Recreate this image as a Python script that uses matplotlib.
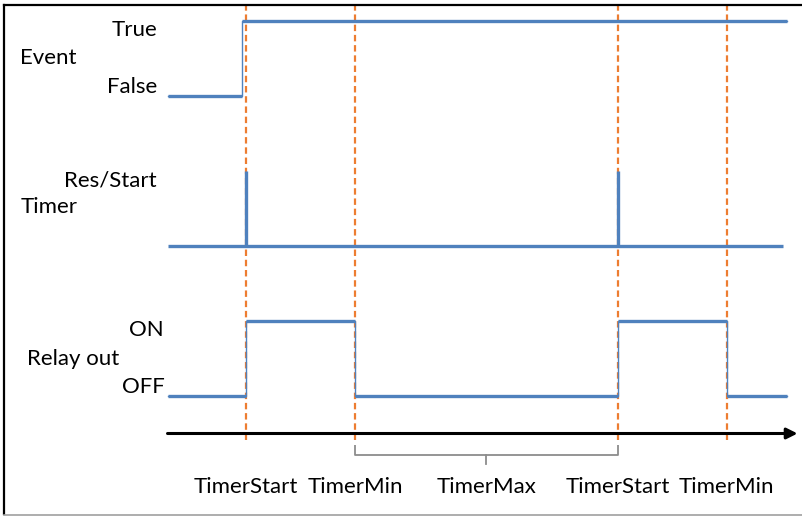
import matplotlib
matplotlib.use("Agg")
import matplotlib.pyplot as plt
from matplotlib.path import Path
from matplotlib.patches import PathPatch

plt.rcParams['font.family'] = ['Lato', 'DejaVu Sans']

# time axis: one unit = TimerMin duration, first TimerStart at t=0
marker_times = [0.0, 1.0, 3.41, 4.41]
marker_labels = ['TimerStart', 'TimerMin', 'TimerStart', 'TimerMin']
t_begin, t_end = -0.72, 4.96
arrow_end = 5.06

# signals (row offsets: event 4, timer 2, relay 0)
event_t = [t_begin, -0.04, -0.04, t_end]
event_v = [0, 0, 1, 1]
timer_pulses = [0.0, 3.41]
relay_t = [t_begin, 0.0, 0.0, 1.0, 1.0, 3.41, 3.41, 4.41, 4.41, t_end]
relay_v = [0, 0, 1, 1, 0, 0, 1, 1, 0, 0]

row_labels = ['Event', 'Timer', 'Relay out']
level_labels = [('True', 'False'), ('Res/Start', ''), ('ON', 'OFF')]
brace_label = 'TimerMax'

blue = '#4F81BD'
orange = '#ED7D31'

fig = plt.figure(figsize=(8.02, 5.16), dpi=100)
ax = fig.add_axes([0, 0, 1, 1])
ax.set_xlim(-2.257, 5.101)
ax.set_ylim(-1.6, 5.28)
ax.axis('off')

fs = 16

# frame around the picture (left, top, bottom)
fig.add_artist(plt.Line2D([0.005, 0.005], [0.003, 0.99], color='black', lw=1.6, transform=fig.transFigure))
fig.add_artist(plt.Line2D([0.005, 1.0], [0.99, 0.99], color='black', lw=1.6, transform=fig.transFigure))
fig.add_artist(plt.Line2D([0.005, 1.0], [0.002, 0.002], color='#a0a0a0', lw=1.2, transform=fig.transFigure))

# dashed markers
for t in marker_times:
    ax.plot([t, t], [-0.59, 5.21], color=orange, lw=1.6, dashes=(2.9, 1.7), zorder=1)

# event row
ax.plot(event_t, [4 + v for v in event_v], color=blue, lw=1.0, zorder=2)
ax.hlines([4, 5], [t_begin, -0.04], [-0.04, t_end], color=blue, lw=2.4, zorder=3)

# timer row
ax.hlines(2, t_begin, t_end - 0.03, color=blue, lw=2.4, zorder=3)
for t in timer_pulses:
    ax.vlines(t, 2, 3, color=blue, lw=2.4, zorder=3)

# relay row
ax.plot(relay_t, relay_v, color=blue, lw=1.0, zorder=2)
for i in range(0, len(relay_t) - 1):
    if relay_v[i] == relay_v[i + 1]:
        ax.hlines(relay_v[i], relay_t[i], relay_t[i + 1], color=blue, lw=2.4, zorder=3)

# time axis arrow
ax.annotate('', xy=(arrow_end, -0.5), xytext=(t_begin, -0.5),
            arrowprops=dict(arrowstyle='-|>', color='black', lw=2.2,
                            mutation_scale=16, shrinkA=0, shrinkB=0))

# brace for TimerMax
b0, b1 = marker_times[1], marker_times[2]
mid = (b0 + b1) / 2
verts = [(b0, -0.65), (b0, -0.787), (b1, -0.787), (b1, -0.65)]
ax.add_patch(PathPatch(Path(verts, [Path.MOVETO, Path.LINETO, Path.LINETO, Path.LINETO]),
                       fill=False, edgecolor='#8c8c8c', lw=1.3, joinstyle='round'))
ax.plot([mid, mid], [-0.787, -0.9], color='#8c8c8c', lw=1.3)

# bottom labels
for t, lab in zip(marker_times, marker_labels):
    ax.text(t, -1.213, lab, ha='center', va='center', fontsize=fs)
ax.text(mid, -1.213, brace_label, ha='center', va='center', fontsize=fs)

# left labels
ax.text(-2.07, 4.507, row_labels[0], ha='left', va='center', fontsize=fs)
ax.text(-0.817, 4.88, level_labels[0][0], ha='right', va='center', fontsize=fs)
ax.text(-0.817, 4.12, level_labels[0][1], ha='right', va='center', fontsize=fs)
ax.text(-2.065, 2.52, row_labels[1], ha='left', va='center', fontsize=fs)
ax.text(-0.817, 2.88, level_labels[1][0], ha='right', va='center', fontsize=fs)
ax.text(-2.01, 0.49, row_labels[2], ha='left', va='center', fontsize=fs)
ax.text(-0.76, 0.88, level_labels[2][0], ha='right', va='center', fontsize=fs)
ax.text(-0.745, 0.124, level_labels[2][1], ha='right', va='center', fontsize=fs)

fig.savefig('out.png', dpi=100)
